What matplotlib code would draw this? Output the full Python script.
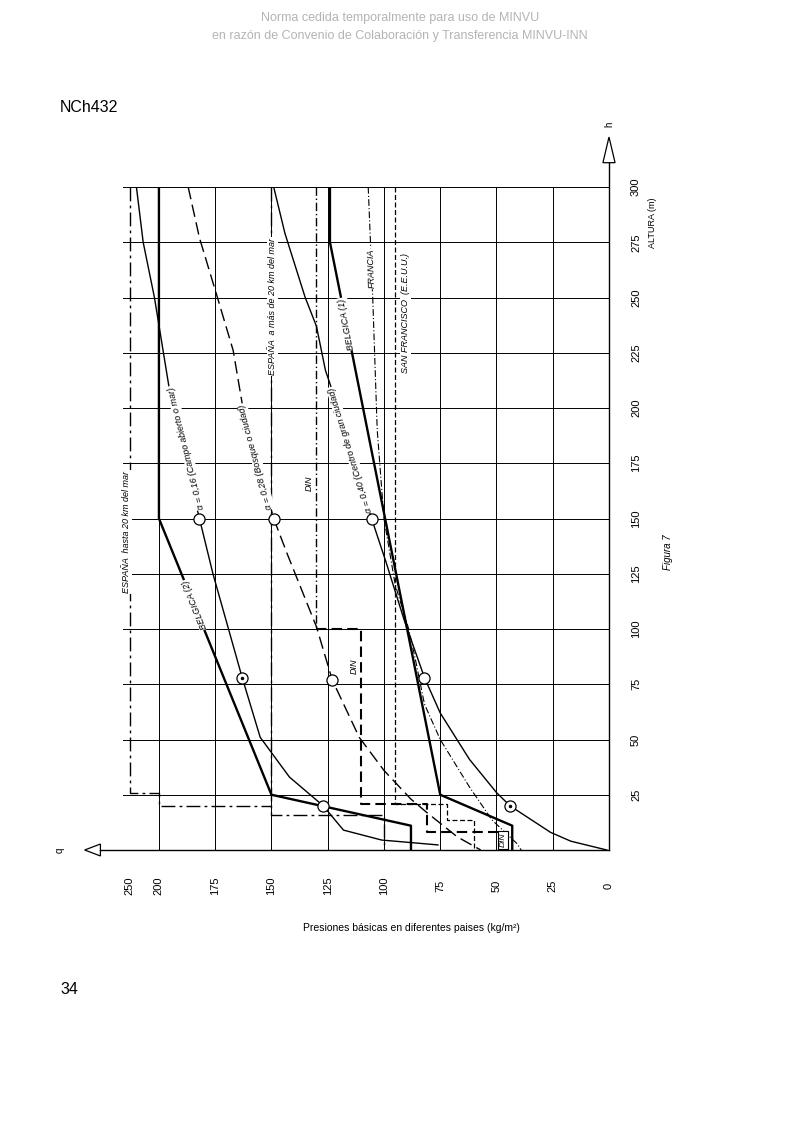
import matplotlib.pyplot as plt
from matplotlib.patches import Polygon

plt.rcParams['font.family'] = ['Liberation Sans', 'DejaVu Sans']

# Figura 7 of NCh432: basic wind pressure (kg/m2) against height (m),
# drawn rotated on the page: pressure runs right-to-left, height bottom-to-top.
# The '250' mark of the pressure scale sits at about 213 of the linear scale.

p_ticks = [0, 25, 50, 75, 100, 125, 150, 175, 200]
p_labels = ['0', '25', '50', '75', '100', '125', '150', '175', '200']
p_mark_250 = 213
h_ticks = [25, 50, 75, 100, 125, 150, 175, 200, 225, 250, 275, 300]

# power-law profiles
a016_p = [210, 207, 202, 198, 194, 182, 176, 163, 155, 142, 127, 118, 101, 76]
a016_h = [300, 275, 250, 225, 200, 150, 125, 78, 51, 33, 20, 9, 4.5, 2.3]
a028_p = [187, 182, 174, 167, 163, 149, 143, 130, 123, 111, 100, 88, 81, 67.5, 57]
a028_h = [300, 277, 250, 226, 202, 150, 134, 101, 77, 51, 36, 23, 17, 6, 0]
a040_p = [149, 144, 135, 130, 126, 121, 113, 105.5, 99, 91, 82, 75, 62, 50, 44, 26, 17, 1]
a040_h = [300, 279, 250, 237, 217, 202, 175, 150, 130, 104, 78, 62, 41, 26, 20, 8, 4, 0]

ring_p = [182, 127, 149, 123, 105.5, 82]
ring_h = [150, 20, 150, 77, 150, 78]
dot_ring_p = [163, 44]
dot_ring_h = [78, 20]

# national codes
belg1_p = [124, 124, 75, 43, 43]
belg1_h = [300, 275, 25, 11, 0]
belg2_p = [200, 200, 150, 88, 88]
belg2_h = [300, 150, 25, 11, 0]
francia_p = [107, 105, 103, 100, 95, 89, 86, 82, 75, 62, 52, 41, 39]
francia_h = [300, 250, 190, 150, 120, 100, 86, 66, 50, 28.5, 13.6, 3, 0]
sf_p = [95, 95, 72, 72, 60, 60]
sf_h = [300, 21, 21, 13.6, 13.6, 0]
din_p = [130, 130, 110, 110, 81, 81, 45, 45]
din_h = [300, 100, 100, 21, 21, 8, 8, 0]
esp_costa_p = [213, 213, 200, 200, 150]
esp_costa_h = [300, 26, 26, 20, 20]
esp_interior_p = [150, 150, 100, 100]
esp_interior_h = [300, 16, 16, 0]

fig = plt.figure(figsize=(8, 11.31), dpi=100)
fig.patch.set_facecolor('white')
ax = fig.add_axes([120 / 800, 1 - 850 / 1131, 489 / 800, 663 / 1131])
ax.set_xlim(217.3, 0)
ax.set_ylim(0, 300)
ax.axis('off')

k = 'black'
# grid
for p in p_ticks[1:]:
    ax.plot([p, p], [0, 300], color=k, lw=0.7)
for h in h_ticks:
    ax.plot([216, 0], [h, h], color=k, lw=0.7)

# axes with open arrow heads
ax.plot([0, 0], [0, 311], color=k, lw=1.0, clip_on=False)
ax.plot([226, 0], [0, 0], color=k, lw=1.0, clip_on=False)
ax.add_patch(Polygon([(2.7, 311), (-2.7, 311), (0, 322.6)], closed=True,
                     fc='white', ec=k, lw=0.9, clip_on=False))
ax.add_patch(Polygon([(226, 2.7), (226, -2.7), (233, 0)], closed=True,
                     fc='white', ec=k, lw=0.9, clip_on=False))
ax.text(0, 327, 'h', rotation=90, fontsize=7, ha='center', va='bottom')
ax.text(244, 0, 'q', rotation=90, fontsize=7, ha='center', va='center')

# curves
ax.plot(a016_p, a016_h, color=k, lw=1.0)
ax.plot(a028_p, a028_h, color=k, lw=1.0, dashes=(9, 4))
ax.plot(a040_p, a040_h, color=k, lw=1.0)
ax.plot(belg1_p, belg1_h, color=k, lw=1.7)
ax.plot(belg2_p, belg2_h, color=k, lw=1.7)
ax.plot(francia_p, francia_h, color=k, lw=0.8, dashes=(6, 2, 1, 2))
ax.plot(sf_p, sf_h, color=k, lw=0.9, dashes=(4, 2))
# DIN: light above 100 m, heavy steps below
ax.plot(din_p[:2], din_h[:2], color=k, lw=1.0, dashes=(6, 2, 1, 2))
ax.plot(din_p[1:], din_h[1:], color=k, lw=1.5, dashes=(5, 2.5))
ax.plot(esp_costa_p, esp_costa_h, color=k, lw=1.0, dashes=(10, 3, 2, 3))
ax.plot(esp_interior_p, esp_interior_h, color=k, lw=1.0, dashes=(10, 3, 2, 3))

ax.plot(ring_p, ring_h, 'o', ms=8, mfc='white', mec=k, mew=0.9, ls='none', zorder=5)
ax.plot(dot_ring_p, dot_ring_h, 'o', ms=8, mfc='white', mec=k, mew=0.9, ls='none', zorder=5)
ax.plot(dot_ring_p, dot_ring_h, '.', ms=3, color=k, ls='none', zorder=6)

# labels along the curves
lab = dict(fontsize=6.5, style='italic', ha='center', va='center',
           bbox=dict(fc='white', ec='none', pad=0.6), zorder=7)
ax.text(214.5, 144, 'ESPAÑA  hasta 20 km del mar', rotation=90, **lab)
ax.text(184, 111, 'BELGICA (2)', rotation=112, **lab)
ax.text(188, 182, 'α = 0,16 (Campo abierto o mar)', rotation=104, **lab)
ax.text(157, 178, 'α = 0,28 (Bosque o ciudad)', rotation=105, **lab)
ax.text(115, 181, 'α = 0,40 (Centro de gran ciudad)', rotation=107, **lab)
ax.text(149.5, 246, 'ESPAÑA  a más de 20 km del mar', rotation=90, **lab)
ax.text(116.5, 238, 'BELGICA (1)', rotation=101, **lab)
ax.text(105.5, 263, 'FRANCIA', rotation=92, **lab)
ax.text(90.5, 243, 'SAN FRANCISCO  (E.E.U.U.)', rotation=90, **lab)
ax.text(133, 166, 'DIN', rotation=90, **lab)
ax.text(113, 83, 'DIN', rotation=90, **lab)
ax.text(47, 4.5, 'DIN', rotation=90, fontsize=6, style='italic', ha='center', va='center',
        bbox=dict(fc='white', ec=k, lw=0.8, pad=1.0), zorder=7)

# tick labels
for p, s in zip(p_ticks, p_labels):
    ax.text(p, -16.3, s, rotation=90, fontsize=8, ha='center', va='center')
ax.text(p_mark_250, -16.3, '250', rotation=90, fontsize=8, ha='center', va='center')
for h in h_ticks:
    ax.text(-12, h, str(h), rotation=90, fontsize=8, ha='center', va='center')
ax.text(-19.5, 284, 'ALTURA (m)', rotation=90, fontsize=6.5, ha='center', va='center')

# page texts
fig.text(0.5, 1 - 18 / 1131, 'Norma cedida temporalmente para uso de MINVU',
         color='#b4b4b4', fontsize=9, ha='center', va='center')
fig.text(0.5, 1 - 36 / 1131,
         'en razón de Convenio de Colaboración y Transferencia MINVU-INN',
         color='#b4b4b4', fontsize=9, ha='center', va='center')
fig.text(60 / 800, 1 - 107 / 1131, 'NCh432', fontsize=11.5, ha='left', va='center')
fig.text(60 / 800, 1 - 990 / 1131, '34', fontsize=11.5, ha='left', va='center')
fig.text(411 / 800, 1 - 928 / 1131, 'Presiones básicas en diferentes paises (kg/m²)',
         fontsize=7.5, ha='center', va='center')
fig.text(668 / 800, 1 - 552 / 1131, 'Figura 7', rotation=90, style='italic',
         fontsize=7, ha='center', va='center')

fig.savefig('out.png', dpi=100, facecolor='white')
